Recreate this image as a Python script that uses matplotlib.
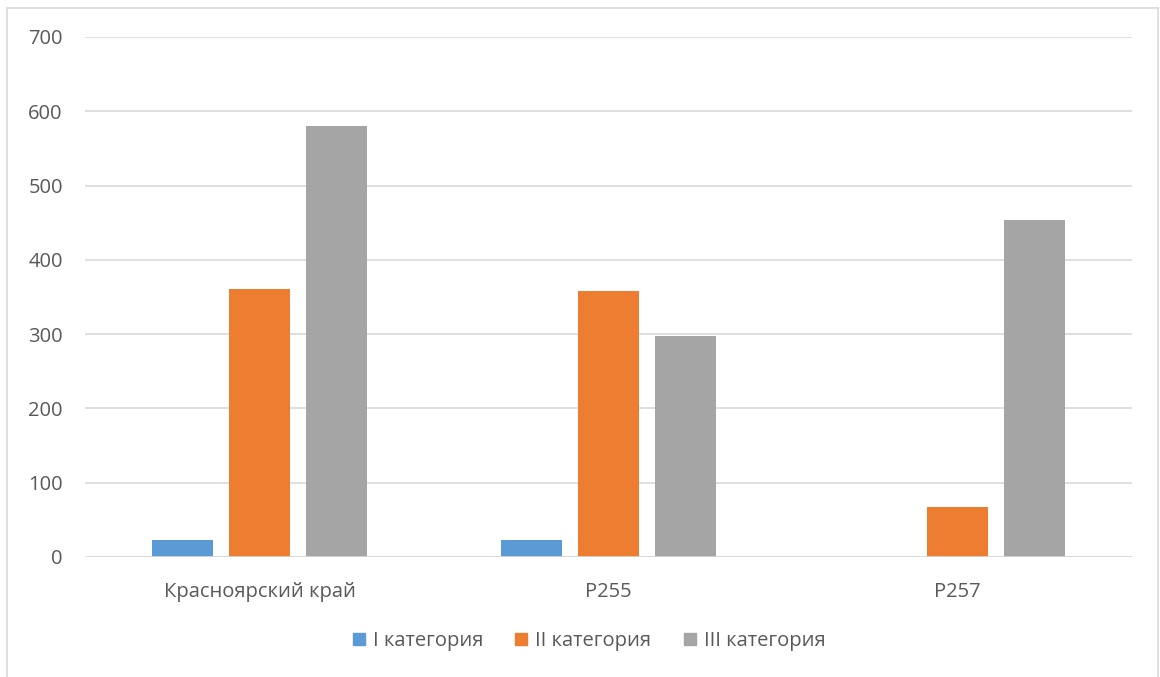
import matplotlib
matplotlib.use('Agg')
import matplotlib.pyplot as plt
from matplotlib.lines import Line2D
import numpy as np

# data per region
regions = ["Красноярский край", "Р255", "Р257"]
series_names = ["I категория", "II категория", "III категория"]
cat1 = [23, 23, 0]
cat2 = [361, 358, 67]
cat3 = [580, 297, 453]
colors = ["#5b9bd5", "#ed7d31", "#a5a5a5"]

plt.rcParams['font.family'] = ['Open Sans', 'DejaVu Sans']
text_color = '#595959'
fs = 14.5

W, H = 1160, 677
fig = plt.figure(figsize=(W / 100, H / 100), dpi=100)
ax = fig.add_axes([85 / W, (H - 557) / H, (1132 - 85) / W, (557 - 37) / H])

x = np.arange(len(regions))
step = 0.221
width = 0.175
for i, (vals, name, c) in enumerate(zip([cat1, cat2, cat3], series_names, colors)):
    ax.bar(x + (i - 1) * step, vals, width, color=c, label=name, zorder=3)

ax.set_xlim(-0.5, len(regions) - 0.5)
ax.set_ylim(0, 700)
ax.set_yticks(range(0, 701, 100))
ax.set_xticks(x)
ax.set_xticklabels(regions)
ax.grid(axis='y', color='#d9d9d9', linewidth=1.2, zorder=0)
for s in ax.spines.values():
    s.set_visible(False)
ax.axhline(0, color='#d9d9d9', linewidth=1.2, zorder=4)
ax.tick_params(axis='both', length=0, colors=text_color, labelsize=fs)
ax.tick_params(axis='y', pad=16)
ax.tick_params(axis='x', pad=18)

handles = [plt.Rectangle((0, 0), 1, 1, color=c) for c in colors]
fig.legend(handles, series_names, loc='center', bbox_to_anchor=(589 / W, 1 - 641 / H),
           ncol=3, frameon=False, fontsize=fs, labelcolor=text_color,
           handlelength=0.6, handleheight=0.6, handletextpad=0.4, columnspacing=1.6)

# chart frame
border = '#d9d9d9'
fig.add_artist(Line2D([7 / W, 7 / W], [0, 1 - 8 / H], color=border, lw=1.2))
fig.add_artist(Line2D([7 / W, 1158 / W], [1 - 8 / H, 1 - 8 / H], color=border, lw=1.2))
fig.add_artist(Line2D([1158 / W, 1158 / W], [0, 1 - 8 / H], color=border, lw=1.2))

fig.savefig('out.png', dpi=100)
